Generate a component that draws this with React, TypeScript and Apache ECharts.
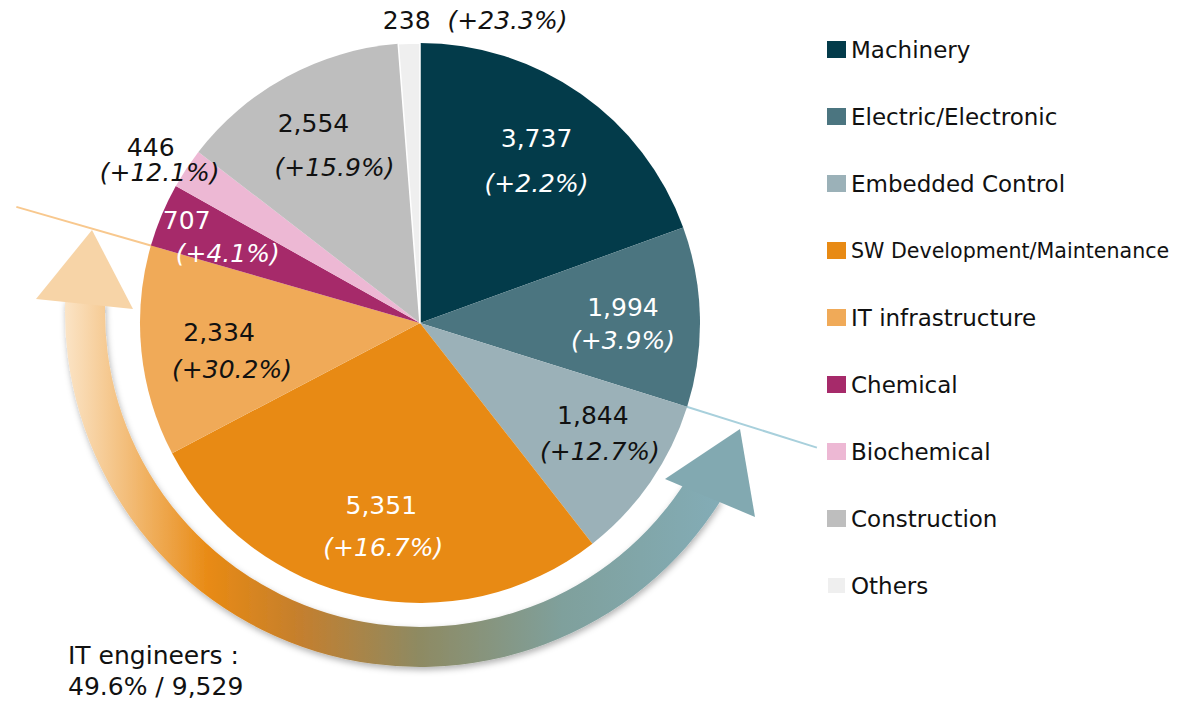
import React, { useEffect, useRef } from 'react';
import * as echarts from 'echarts';

// ---- data ----
const categories = [
  'Machinery',
  'Electric/Electronic',
  'Embedded Control',
  'SW Development/Maintenance',
  'IT infrastructure',
  'Chemical',
  'Biochemical',
  'Construction',
  'Others',
];
const counts = [3737, 1994, 1844, 5351, 2334, 707, 446, 2554, 238];
const growthPct = [2.2, 3.9, 12.7, 16.7, 30.2, 4.1, 12.1, 15.9, 23.3];
const itGroup = ['Embedded Control', 'SW Development/Maintenance', 'IT infrastructure'];
const summaryTitle = 'IT engineers :';

// ---- styles ----
const sliceColors = ['#033b4a', '#4b7580', '#9bb1b8', '#e88a14', '#f0aa58', '#a62a6a', '#edb8d4', '#bebebe', '#efefef'];
const FONT = "'DejaVu Sans', Verdana, sans-serif";
const CX = 420;
const CY = 323;
const R = 280;
const DARK = '#111111';

// per-slice label placement tweaks (relative to the library's inside position)
const labelTweaks = [
  { dx: 0, dy: 4.5, lh: 45, padA: 0, color: '#ffffff' },
  { dx: 0, dy: 5, lh: 33, padA: 0, color: '#ffffff' },
  { dx: 13, dy: -5, lh: 36, padA: 14, color: DARK },
  { dx: 6, dy: 5.5, lh: 42, padA: 4, color: '#ffffff' },
  { dx: 14, dy: 7, lh: 37, padA: 26, color: DARK },
  { dx: -5, dy: -8, lh: 33, padA: 82, color: '#ffffff' },
  { dx: -91, dy: -51, lh: 25.5, padA: 18, color: DARK },
  { dx: 11, dy: 1, lh: 44, padA: 42, color: DARK },
  { dx: 63, dy: -100, lh: 30, padA: 17, color: DARK },
];

const fmt = (v: number) => v.toLocaleString('en-US');

export default function App() {
  const ref = useRef<HTMLDivElement>(null);

  useEffect(() => {
    if (!ref.current) return;
    const chart = echarts.init(ref.current, undefined, { renderer: 'svg' });

    const total = counts.reduce((a, b) => a + b, 0);
    const itIdx = itGroup.map((n) => categories.indexOf(n));
    const itSum = itIdx.reduce((a, i) => a + counts[i], 0);
    const firstIt = Math.min(...itIdx);
    const lastIt = Math.max(...itIdx);
    const cumBefore = (k: number) => counts.slice(0, k).reduce((a, b) => a + b, 0);
    const angStart = (cumBefore(firstIt) / total) * 2 * Math.PI;
    const angEnd = (cumBefore(lastIt + 1) / total) * 2 * Math.PI;
    const pt = (a: number, r: number) => [CX + r * Math.sin(a), CY - r * Math.cos(a)];
    const [b1x, b1y] = pt(angStart, 272);
    const [b2x, b2y] = pt(angStart, 416);
    const [p1x, p1y] = pt(angEnd, 272);
    const [p2x, p2y] = pt(angEnd, 420);

    const labelData = categories.map((name, i) => {
      const t = labelTweaks[i];
      const sep = i === categories.length - 1 ? '' : '\n';
      return {
        name,
        value: counts[i],
        label: {
          offset: [t.dx, t.dy],
          formatter: `{a|${fmt(counts[i])}}${sep}{b|(+${growthPct[i].toFixed(1)}%)}`,
          rich: {
            a: { fontSize: 25, fontFamily: FONT, color: t.color, lineHeight: t.lh, padding: [0, t.padA, 0, 0] },
            b: { fontSize: 25, fontFamily: FONT, fontStyle: 'italic', color: t.color, lineHeight: t.lh },
          },
        },
      };
    });

    const toRad = (d: number) => (d * Math.PI) / 180;

    chart.setOption({
      animation: false,
      backgroundColor: '#ffffff',
      legend: {
        orient: 'vertical',
        left: 826,
        top: 38,
        padding: 0,
        itemWidth: 19,
        itemHeight: 17,
        itemGap: 44,
        icon: 'rect',
        selectedMode: false,
        data: categories,
        formatter: (name: string) => (name === 'SW Development/Maintenance' ? `{s|${name}}` : name),
        textStyle: {
          fontSize: 23,
          lineHeight: 23,
          color: DARK,
          fontFamily: FONT,
          rich: { s: { fontSize: 20.6, lineHeight: 23, color: DARK, fontFamily: FONT } },
        },
      },
      graphic: [
        {
          type: 'line',
          z: 1,
          shape: { x1: b1x, y1: b1y, x2: b2x, y2: b2y },
          style: { stroke: '#a8d0dc', lineWidth: 2 },
        },
        {
          type: 'line',
          z: 1,
          shape: { x1: p1x, y1: p1y, x2: p2x, y2: p2y },
          style: { stroke: '#f8c88e', lineWidth: 2 },
        },
        {
          type: 'sector',
          z: 1,
          shape: { cx: 420, cy: 312, r0: 315, r: 355, startAngle: toRad(32), endAngle: toRad(182), clockwise: true },
          style: {
            fill: {
              type: 'linear',
              x: 65,
              y: 0,
              x2: 719,
              y2: 0,
              global: true,
              colorStops: [
                { offset: 0, color: '#fbe4c6' },
                { offset: 0.22, color: '#e88a14' },
                { offset: 0.36, color: '#c47f2e' },
                { offset: 0.54, color: '#8e8a62' },
                { offset: 0.76, color: '#7fa09c' },
                { offset: 1, color: '#83acb6' },
              ],
            },
            shadowBlur: 6,
            shadowOffsetX: 1,
            shadowOffsetY: 3,
            shadowColor: 'rgba(0,0,0,0.3)',
          },
        },
        {
          type: 'polygon',
          z: 2,
          shape: { points: [[92, 230], [36, 299], [133, 309]] },
          style: { fill: '#f7d4a7' },
        },
        {
          type: 'polygon',
          z: 2,
          shape: { points: [[740, 429], [665, 479], [755, 517]] },
          style: { fill: '#82a9b1' },
        },
        {
          type: 'text',
          z: 2,
          x: 68,
          y: 640,
          style: {
            text: `${summaryTitle}\n${((itSum / total) * 100).toFixed(1)}% / ${fmt(itSum)}`,
            fontSize: 25,
            fontFamily: FONT,
            fill: DARK,
            lineHeight: 31,
            verticalAlign: 'top',
            align: 'left',
          },
        },
      ],
      series: [
        {
          type: 'pie',
          z: 2,
          center: [CX, CY],
          radius: R,
          startAngle: 90,
          clockwise: true,
          silent: true,
          avoidLabelOverlap: false,
          label: { show: false },
          labelLine: { show: false },
          data: categories.map((name, i) => ({
            name,
            value: counts[i],
            itemStyle:
              i === categories.length - 1
                ? { color: sliceColors[i], borderColor: '#ffffff', borderWidth: 1.5 }
                : { color: sliceColors[i] },
          })),
        },
        {
          type: 'pie',
          z: 3,
          center: [CX, CY],
          radius: [120, R],
          startAngle: 90,
          clockwise: true,
          silent: true,
          avoidLabelOverlap: false,
          itemStyle: { color: 'rgba(0,0,0,0)' },
          label: { show: true, position: 'inside', rotate: 0 },
          labelLine: { show: false },
          data: labelData,
        },
      ],
    });

    return () => chart.dispose();
  }, []);

  return <div ref={ref} style={{ position: 'fixed', left: 0, top: 0, width: 1178, height: 702 }} />;
}
